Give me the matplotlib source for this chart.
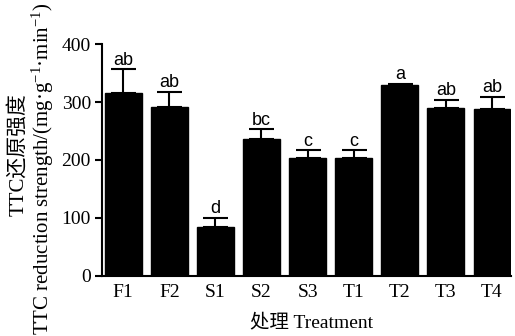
import numpy as np
import matplotlib
matplotlib.use("Agg")
import matplotlib.pyplot as plt

# data
treat = ['F1', 'F2', 'S1', 'S2', 'S3', 'T1', 'T2', 'T3', 'T4']
ttc = [315, 291, 84, 237, 204, 204, 329, 290, 289]
ttc_err = [42, 27, 16, 16, 13, 13, 3, 14, 20]
sig = ['ab', 'ab', 'd', 'bc', 'c', 'c', 'a', 'ab', 'ab']

plt.rcParams['font.family'] = ['Liberation Serif', 'Noto Sans CJK SC']
plt.rcParams['mathtext.fontset'] = 'custom'
plt.rcParams['mathtext.rm'] = 'Liberation Serif'
plt.rcParams['mathtext.it'] = 'Liberation Serif:italic'

fig = plt.figure(figsize=(5.15, 3.36), dpi=100)
ax = fig.add_axes([0.198, 0.180, 0.794, 0.688])

x = np.arange(len(treat))
ax.bar(x, ttc, width=0.8, color='black', edgecolor='black')
ax.errorbar(x, ttc, yerr=[np.zeros(len(ttc)), ttc_err], fmt='none',
            ecolor='black', elinewidth=1.5, capsize=9, capthick=1.5)

for xi, v, e, s in zip(x, ttc, ttc_err, sig):
    ax.text(xi, v + e + 1, s, ha='center', va='bottom', fontsize=13,
            family='Liberation Sans')

ax.set_xlim(-0.46, 8.41)
ax.set_ylim(0, 400)
ax.set_yticks([0, 100, 200, 300, 400])
ax.set_xticks(x)
ax.set_xticklabels(treat)
ax.tick_params(axis='x', length=0, labelsize=14, pad=6)
ax.tick_params(axis='y', length=5, width=1.5, labelsize=14, direction='out',
               pad=3)
for sp in ['top', 'right']:
    ax.spines[sp].set_visible(False)
for sp in ['left', 'bottom']:
    ax.spines[sp].set_linewidth(1.5)

fig.text(0.605, 0.040, '处理 Treatment', ha='center', va='center', fontsize=14)
fig.text(0.083, 0.497, 'TTC reduction strength/(mg·g$^{-1}$·min$^{-1}$)',
         rotation=90, ha='center', va='center', fontsize=15)
fig.text(0.036, 0.54, 'TTC还原强度', rotation=90, ha='center', va='center',
         fontsize=15)

fig.savefig('out.png', dpi=100)
